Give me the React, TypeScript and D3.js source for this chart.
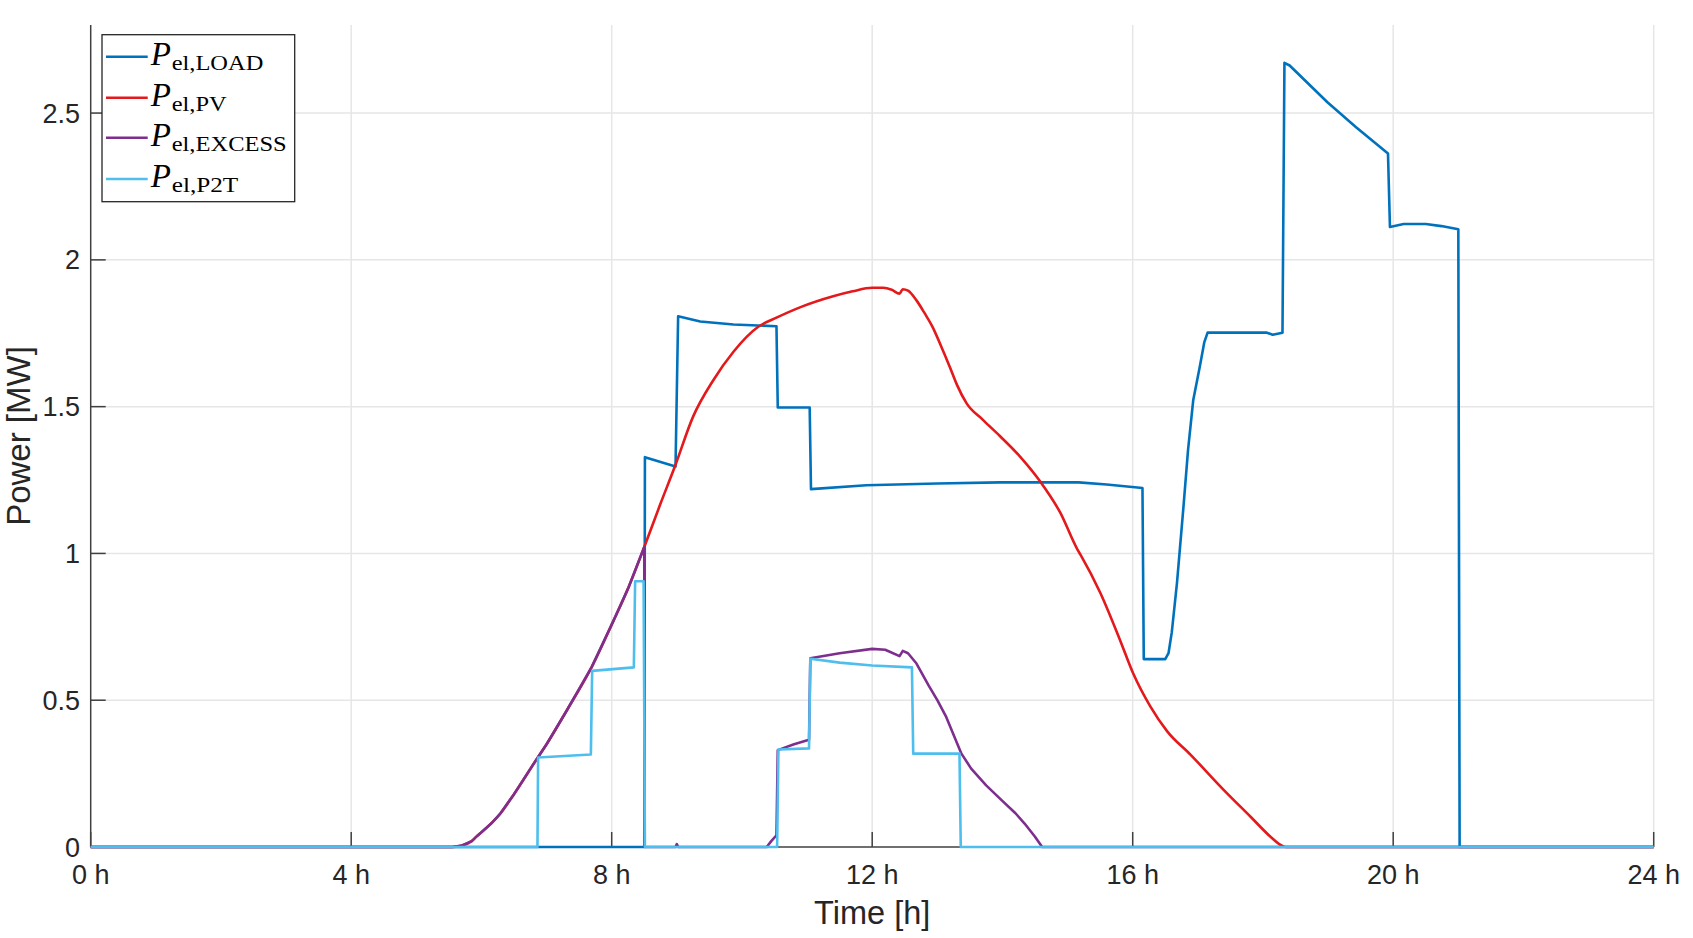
import React from "react";
import * as d3 from "d3";

// ---- data (hours, MW) ----
const loadT = [0, 8.5, 8.51, 8.98, 9.02, 9.36, 9.87, 10.53, 10.55, 11.04, 11.06, 11.91, 13.0, 13.96, 15.17, 15.6, 16.15, 16.17, 16.5, 16.55, 16.6, 16.68, 16.78, 16.85, 16.93, 17.03, 17.1, 17.15, 18.06, 18.15, 18.3, 18.33, 18.41, 18.99, 19.43, 19.92, 19.95, 20.16, 20.5, 20.74, 21.0, 21.02, 24];
const loadV = [0, 0, 1.328, 1.296, 1.808, 1.79, 1.78, 1.774, 1.497, 1.497, 1.219, 1.232, 1.238, 1.242, 1.242, 1.235, 1.223, 0.64, 0.64, 0.66, 0.731, 0.9, 1.16, 1.353, 1.523, 1.636, 1.72, 1.752, 1.752, 1.745, 1.752, 2.671, 2.662, 2.537, 2.452, 2.362, 2.112, 2.122, 2.122, 2.115, 2.104, 0, 0];

const pvT = [0, 5.55, 5.7, 5.85, 5.93, 6.0, 6.29, 6.5, 6.85, 7.0, 7.31, 7.69, 8.03, 8.25, 8.5, 8.75, 8.97, 9.25, 9.56, 9.87, 10.25, 10.53, 10.9, 11.4, 11.7, 12.0, 12.17, 12.3, 12.42, 12.47, 12.55, 12.68, 12.8, 12.93, 13.05, 13.19, 13.3, 13.45, 13.7, 13.96, 14.27, 14.58, 14.89, 15.15, 15.2, 15.5, 15.8, 16.01, 16.27, 16.53, 16.89, 17.4, 17.81, 18.12, 18.25, 18.35, 24];
const pvV = [0, 0, 0.005, 0.02, 0.037, 0.05, 0.114, 0.18, 0.3, 0.35, 0.465, 0.612, 0.772, 0.88, 1.022, 1.17, 1.296, 1.466, 1.59, 1.687, 1.772, 1.803, 1.839, 1.876, 1.893, 1.905, 1.905, 1.898, 1.885, 1.9, 1.895, 1.862, 1.82, 1.77, 1.71, 1.636, 1.575, 1.511, 1.455, 1.4, 1.33, 1.245, 1.138, 1.014, 0.995, 0.867, 0.708, 0.59, 0.479, 0.394, 0.314, 0.194, 0.103, 0.034, 0.01, 0, 0];

const excT = [0, 5.55, 5.7, 5.85, 5.93, 6.0, 6.15, 6.29, 6.5, 6.85, 7.0, 7.31, 7.69, 8.03, 8.25, 8.5, 8.505, 8.98, 9.0, 9.02, 10.38, 10.45, 10.53, 10.55, 10.8, 11.03, 11.05, 11.5, 12.0, 12.2, 12.42, 12.47, 12.55, 12.68, 12.87, 13.0, 13.13, 13.37, 13.52, 13.75, 13.99, 14.2, 14.34, 14.5, 14.61, 24];
const excV = [0, 0, 0.005, 0.02, 0.037, 0.05, 0.08, 0.114, 0.18, 0.3, 0.35, 0.465, 0.612, 0.772, 0.88, 1.022, 0, 0, 0.01, 0, 0, 0.02, 0.04, 0.33, 0.35, 0.365, 0.643, 0.66, 0.675, 0.672, 0.65, 0.668, 0.66, 0.625, 0.549, 0.5, 0.446, 0.318, 0.267, 0.21, 0.159, 0.115, 0.08, 0.035, 0, 0];

const p2tT = [0, 6.86, 6.87, 7.68, 7.7, 8.34, 8.36, 8.49, 8.51, 10.54, 10.56, 11.03, 11.05, 11.5, 12.0, 12.61, 12.63, 13.34, 13.36, 24];
const p2tV = [0, 0, 0.305, 0.315, 0.6, 0.612, 0.905, 0.905, 0, 0, 0.332, 0.336, 0.641, 0.628, 0.618, 0.612, 0.318, 0.318, 0, 0];

const xTicks = [0, 4, 8, 12, 16, 20, 24];
const xTickLabels = ["0 h", "4 h", "8 h", "12 h", "16 h", "20 h", "24 h"];
const yTicks = [0, 0.5, 1, 1.5, 2, 2.5];
const yTickLabels = ["0", "0.5", "1", "1.5", "2", "2.5"];

const seriesNames = ["LOAD", "PV", "EXCESS", "P2T"];
const seriesColors = ["#0072BD", "#E3191C", "#7E2F8E", "#4DBEEE"];
const subWidths = [91.6, 55, 115, 66.6];

const W = 1693;
const H = 938;
const left = 90.7;
const right = 1653.7;
const bottom = 847;
const top = 25;

export default function App() {
  const x = d3.scaleLinear().domain([0, 24]).range([left, right]);
  const y = d3.scaleLinear().domain([0, 2.8]).range([bottom, top]);
  const mk = (ts: number[], vs: number[], smooth: boolean) =>
    d3
      .line<number>()
      .x((_, i) => x(ts[i]))
      .y((v) => y(v))
      .curve(smooth ? d3.curveMonotoneX : d3.curveLinear)(vs) || "";

  const series = [
    mk(loadT, loadV, false),
    mk(pvT, pvV, true),
    mk(excT, excV, false),
    mk(p2tT, p2tV, false),
  ];
  const axisColor = "#404040";
  const gridColor = "#e6e6e6";
  const sans = "'Liberation Sans', Arial, Helvetica, sans-serif";
  const serif = "'Liberation Serif', 'DejaVu Serif', serif";

  const legX = 102;
  const legY = 34.7;
  const legW = 192.7;
  const legH = 167;
  const rowY = [56.7, 97.7, 137.7, 179];

  return (
    <svg
      width={W}
      height={H}
      style={{ position: "absolute", left: 0, top: 0, background: "#fff" }}
    >
      <rect x={0} y={0} width={W} height={H} fill="#fff" />
      {/* grid */}
      {xTicks.slice(1).map((t) => (
        <line key={"gx" + t} x1={x(t)} x2={x(t)} y1={top} y2={bottom} stroke={gridColor} strokeWidth={1.5} />
      ))}
      {yTicks.slice(1).map((t) => (
        <line key={"gy" + t} x1={left} x2={right} y1={y(t)} y2={y(t)} stroke={gridColor} strokeWidth={1.5} />
      ))}
      {/* axes */}
      <line x1={left} x2={left} y1={top} y2={bottom} stroke={axisColor} strokeWidth={1.5} />
      <line x1={left} x2={right} y1={bottom} y2={bottom} stroke={axisColor} strokeWidth={1.5} />
      {xTicks.map((t) => (
        <line key={"tx" + t} x1={x(t)} x2={x(t)} y1={bottom} y2={bottom - 15} stroke={axisColor} strokeWidth={1.5} />
      ))}
      {yTicks.map((t) => (
        <line key={"ty" + t} x1={left} x2={left + 15} y1={y(t)} y2={y(t)} stroke={axisColor} strokeWidth={1.5} />
      ))}
      {/* series */}
      {series.map((d, i) => (
        <path key={"s" + i} d={d} fill="none" stroke={seriesColors[i]} strokeWidth={2.6} strokeLinejoin="round" />
      ))}
      {/* tick labels */}
      {xTicks.map((t, i) => (
        <text key={"lx" + t} x={x(t)} y={884} fontFamily={sans} fontSize={27} fill="#262626" textAnchor="middle">
          {xTickLabels[i]}
        </text>
      ))}
      {yTicks.map((t, i) => (
        <text key={"ly" + t} x={80} y={y(t) + 9.5} fontFamily={sans} fontSize={27} fill="#262626" textAnchor="end">
          {yTickLabels[i]}
        </text>
      ))}
      {/* axis labels */}
      <text x={(left + right) / 2} y={924} fontFamily={sans} fontSize={32.5} fill="#262626" textAnchor="middle">
        Time [h]
      </text>
      <text
        transform={`translate(30,${(top + bottom) / 2}) rotate(-90)`}
        fontFamily={sans}
        fontSize={33}
        fill="#262626"
        textAnchor="middle"
      >
        Power [MW]
      </text>
      {/* legend */}
      <rect x={legX} y={legY} width={legW} height={legH} fill="#fff" stroke="#262626" strokeWidth={1.3} />
      {seriesNames.map((n, i) => (
        <g key={"leg" + n}>
          <line x1={106} x2={147.7} y1={rowY[i]} y2={rowY[i]} stroke={seriesColors[i]} strokeWidth={2.6} />
          <text x={150.7} y={rowY[i] + 8.3} fontFamily={serif} fontStyle="italic" fontSize={33} fill="#000">
            P
          </text>
          <text
            x={171.7}
            y={rowY[i] + 13.3}
            fontFamily={serif}
            fontSize={22}
            fill="#000"
            textLength={subWidths[i]}
            lengthAdjust="spacingAndGlyphs"
          >
            {"el," + n}
          </text>
        </g>
      ))}
    </svg>
  );
}
